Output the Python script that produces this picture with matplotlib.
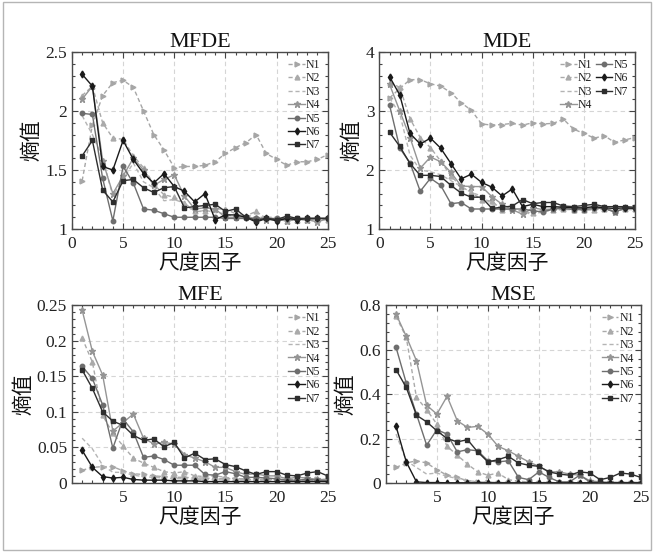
import matplotlib
matplotlib.use("Agg")
import matplotlib.pyplot as plt
from matplotlib.ticker import AutoMinorLocator, FixedLocator
from matplotlib.patches import Rectangle

scales = list(range(1, 26))
series_names = ["N1", "N2", "N3", "N4", "N5", "N6", "N7"]

mfde_N1 = [1.41, 1.88, 2.13, 2.24, 2.26, 2.20, 2.00, 1.80, 1.67, 1.52, 1.53, 1.53, 1.54, 1.57, 1.64, 1.69, 1.73, 1.80, 1.64, 1.59, 1.54, 1.57, 1.57, 1.59, 1.63]
mfde_N2 = [2.13, 2.21, 1.90, 1.77, 1.76, 1.62, 1.52, 1.38, 1.29, 1.27, 1.22, 1.15, 1.15, 1.17, 1.17, 1.13, 1.11, 1.15, 1.09, 1.09, 1.07, 1.08, 1.08, 1.08, 1.08]
mfde_N3 = [1.96, 1.80, 1.60, 1.28, 1.42, 1.56, 1.40, 1.35, 1.24, 1.25, 1.22, 1.14, 1.16, 1.14, 1.13, 1.10, 1.12, 1.10, 1.10, 1.10, 1.08, 1.08, 1.08, 1.08, 1.08]
mfde_N4 = [2.10, 2.21, 1.58, 1.30, 1.45, 1.60, 1.50, 1.37, 1.42, 1.46, 1.28, 1.17, 1.18, 1.17, 1.10, 1.10, 1.10, 1.09, 1.08, 1.08, 1.07, 1.08, 1.08, 1.06, 1.09]
mfde_N5 = [1.98, 1.97, 1.43, 1.07, 1.53, 1.39, 1.17, 1.16, 1.13, 1.10, 1.10, 1.10, 1.10, 1.10, 1.09, 1.09, 1.09, 1.09, 1.09, 1.09, 1.09, 1.09, 1.09, 1.09, 1.09]
mfde_N6 = [2.31, 2.21, 1.53, 1.50, 1.75, 1.59, 1.47, 1.39, 1.47, 1.36, 1.32, 1.23, 1.30, 1.08, 1.12, 1.12, 1.10, 1.06, 1.09, 1.07, 1.09, 1.08, 1.09, 1.09, 1.09]
mfde_N7 = [1.62, 1.75, 1.33, 1.23, 1.41, 1.42, 1.35, 1.31, 1.35, 1.36, 1.18, 1.19, 1.20, 1.21, 1.15, 1.17, 1.10, 1.07, 1.09, 1.08, 1.11, 1.09, 1.09, 1.09, 1.09]

mde_N1 = [3.22, 3.38, 3.53, 3.53, 3.46, 3.42, 3.31, 3.14, 3.01, 2.78, 2.76, 2.77, 2.79, 2.76, 2.80, 2.78, 2.79, 2.86, 2.69, 2.62, 2.54, 2.58, 2.47, 2.51, 2.55]
mde_N2 = [3.48, 3.40, 2.87, 2.55, 2.38, 2.15, 1.90, 1.72, 1.62, 1.50, 1.47, 1.33, 1.34, 1.30, 1.27, 1.32, 1.32, 1.34, 1.33, 1.32, 1.33, 1.34, 1.30, 1.34, 1.34]
mde_N3 = [3.22, 2.95, 2.25, 2.00, 1.97, 1.92, 1.82, 1.72, 1.62, 1.56, 1.42, 1.35, 1.32, 1.30, 1.24, 1.30, 1.32, 1.33, 1.33, 1.33, 1.33, 1.33, 1.33, 1.33, 1.33]
mde_N4 = [3.45, 3.00, 2.55, 2.03, 2.22, 2.14, 1.96, 1.73, 1.72, 1.72, 1.55, 1.42, 1.33, 1.25, 1.36, 1.33, 1.34, 1.37, 1.36, 1.34, 1.37, 1.36, 1.29, 1.35, 1.36]
mde_N5 = [3.10, 2.37, 2.12, 1.64, 1.86, 1.74, 1.43, 1.45, 1.34, 1.34, 1.34, 1.34, 1.34, 1.34, 1.31, 1.29, 1.34, 1.35, 1.33, 1.33, 1.35, 1.35, 1.29, 1.35, 1.35]
mde_N6 = [3.58, 3.27, 2.62, 2.44, 2.54, 2.37, 2.11, 1.85, 1.93, 1.79, 1.71, 1.56, 1.68, 1.38, 1.42, 1.38, 1.38, 1.37, 1.36, 1.36, 1.38, 1.36, 1.35, 1.36, 1.35]
mde_N7 = [2.64, 2.40, 2.11, 1.91, 1.91, 1.89, 1.74, 1.61, 1.54, 1.54, 1.35, 1.37, 1.39, 1.50, 1.43, 1.45, 1.45, 1.39, 1.38, 1.40, 1.42, 1.38, 1.38, 1.38, 1.37]

mfe_N1 = [0.018, 0.022, 0.023, 0.023, 0.017, 0.013, 0.012, 0.010, 0.009, 0.008, 0.008, 0.007, 0.007, 0.006, 0.006, 0.006, 0.005, 0.005, 0.005, 0.005, 0.005, 0.005, 0.005, 0.005, 0.005]
mfe_N2 = [0.204, 0.170, 0.095, 0.070, 0.052, 0.035, 0.028, 0.022, 0.016, 0.014, 0.016, 0.010, 0.009, 0.010, 0.008, 0.006, 0.006, 0.005, 0.005, 0.005, 0.004, 0.004, 0.005, 0.003, 0.003]
mfe_N3 = [0.063, 0.048, 0.025, 0.015, 0.015, 0.011, 0.009, 0.008, 0.007, 0.006, 0.006, 0.005, 0.005, 0.005, 0.004, 0.004, 0.004, 0.004, 0.004, 0.004, 0.004, 0.004, 0.004, 0.004, 0.004]
mfe_N4 = [0.243, 0.185, 0.152, 0.073, 0.085, 0.097, 0.063, 0.055, 0.057, 0.055, 0.040, 0.035, 0.030, 0.022, 0.022, 0.016, 0.012, 0.013, 0.010, 0.010, 0.006, 0.008, 0.007, 0.005, 0.005]
mfe_N5 = [0.164, 0.147, 0.110, 0.049, 0.090, 0.072, 0.036, 0.038, 0.033, 0.025, 0.025, 0.025, 0.012, 0.011, 0.016, 0.013, 0.008, 0.008, 0.007, 0.006, 0.004, 0.004, 0.005, 0.004, 0.003]
mfe_N6 = [0.046, 0.022, 0.009, 0.007, 0.008, 0.005, 0.004, 0.004, 0.004, 0.003, 0.003, 0.003, 0.002, 0.002, 0.002, 0.002, 0.002, 0.002, 0.002, 0.002, 0.002, 0.002, 0.002, 0.002, 0.002]
mfe_N7 = [0.159, 0.133, 0.100, 0.087, 0.081, 0.067, 0.060, 0.062, 0.051, 0.057, 0.035, 0.042, 0.033, 0.034, 0.026, 0.023, 0.017, 0.012, 0.016, 0.016, 0.011, 0.010, 0.014, 0.016, 0.010]

mse_N1 = [0.070, 0.090, 0.100, 0.090, 0.060, 0.035, 0.025, 0.010, 0.005, 0.003, 0.002, 0.002, 0.001, 0.001, 0.001, 0.001, 0.001, 0.001, 0.001, 0.001, 0.001, 0.001, 0.001, 0.001, 0.001]
mse_N2 = [0.750, 0.655, 0.385, 0.330, 0.265, 0.165, 0.125, 0.085, 0.050, 0.035, 0.045, 0.015, 0.008, 0.005, 0.003, 0.002, 0.002, 0.002, 0.002, 0.002, 0.001, 0.001, 0.001, 0.001, 0.001]
mse_N3 = [0.220, 0.100, 0.070, 0.040, 0.045, 0.030, 0.020, 0.010, 0.006, 0.004, 0.003, 0.002, 0.002, 0.001, 0.001, 0.001, 0.001, 0.001, 0.001, 0.001, 0.001, 0.001, 0.001, 0.001, 0.001]
mse_N4 = [0.760, 0.660, 0.550, 0.350, 0.310, 0.390, 0.280, 0.250, 0.255, 0.220, 0.165, 0.145, 0.120, 0.095, 0.075, 0.050, 0.050, 0.040, 0.035, 0.010, 0.005, 0.003, 0.002, 0.002, 0.002]
mse_N5 = [0.610, 0.450, 0.310, 0.170, 0.240, 0.220, 0.140, 0.150, 0.145, 0.100, 0.095, 0.100, 0.025, 0.015, 0.050, 0.025, 0.005, 0.005, 0.035, 0.005, 0.002, 0.002, 0.002, 0.002, 0.002]
mse_N6 = [0.255, 0.095, 0.005, 0.002, 0.002, 0.001, 0.001, 0.001, 0.001, 0.001, 0.001, 0.001, 0.001, 0.001, 0.001, 0.001, 0.001, 0.001, 0.001, 0.001, 0.001, 0.001, 0.001, 0.001, 0.001]
mse_N7 = [0.510, 0.430, 0.305, 0.275, 0.235, 0.200, 0.185, 0.195, 0.140, 0.095, 0.105, 0.120, 0.090, 0.080, 0.075, 0.050, 0.040, 0.035, 0.050, 0.045, 0.015, 0.025, 0.045, 0.040, 0.025]

panel_titles = ["MFDE", "MDE", "MFE", "MSE"]
panel_data = [
    [mfde_N1, mfde_N2, mfde_N3, mfde_N4, mfde_N5, mfde_N6, mfde_N7],
    [mde_N1, mde_N2, mde_N3, mde_N4, mde_N5, mde_N6, mde_N7],
    [mfe_N1, mfe_N2, mfe_N3, mfe_N4, mfe_N5, mfe_N6, mfe_N7],
    [mse_N1, mse_N2, mse_N3, mse_N4, mse_N5, mse_N6, mse_N7],
]
panel_ylims = [(1, 2.5), (1, 4), (0, 0.25), (0, 0.8)]
panel_yticks = [[1, 1.5, 2, 2.5], [1, 2, 3, 4], [0, 0.05, 0.1, 0.15, 0.2, 0.25], [0, 0.2, 0.4, 0.6, 0.8]]
panel_yticklabels = [["1", "1.5", "2", "2.5"], ["1", "2", "3", "4"],
                     ["0", "0.05", "0.1", "0.15", "0.2", "0.25"], ["0", "0.2", "0.4", "0.6", "0.8"]]
panel_xticks = [[0, 5, 10, 15, 20, 25], [0, 5, 10, 15, 20, 25], [5, 10, 15, 20, 25], [5, 10, 15, 20, 25]]
xlabel = "尺度因子"
ylabel = "熵值"

styles = [
    dict(color="#a6a6a6", ls=(0, (3, 2)), marker=">", ms=3.5),
    dict(color="#aaaaaa", ls=(0, (3, 2)), marker="^", ms=3.5),
    dict(color="#b4b4b4", ls=(0, (3, 2)), marker=None, ms=3),
    dict(color="#959595", ls="-", marker="*", ms=4.5),
    dict(color="#6e6e6e", ls="-", marker="o", ms=3.2),
    dict(color="#1a1a1a", ls="-", marker="d", ms=3.5),
    dict(color="#2e2e2e", ls="-", marker="s", ms=3),
]

plt.rcParams["font.family"] = ["Liberation Serif", "Noto Sans CJK SC", "DejaVu Sans"]
plt.rcParams["axes.unicode_minus"] = False

fig = plt.figure(figsize=(6.54, 5.52), dpi=100)
positions = [
    [0.110, 0.585, 0.391, 0.321],
    [0.580, 0.585, 0.391, 0.321],
    [0.110, 0.125, 0.391, 0.322],
    [0.590, 0.125, 0.390, 0.322],
]

cjk = ["Noto Sans CJK SC", "DejaVu Sans"]

for i, ax_pos in enumerate(positions):
    ax = fig.add_axes(ax_pos)
    for name, vals, st in zip(series_names, panel_data[i], styles):
        ax.plot(scales, vals, label=name, color=st["color"], ls=st["ls"],
                marker=st["marker"], ms=st["ms"], lw=1.0,
                markeredgecolor=st["color"], markerfacecolor=st["color"])
    ax.set_xlim(0, 25)
    ax.set_ylim(*panel_ylims[i])
    ax.xaxis.set_major_locator(FixedLocator(panel_xticks[i]))
    ax.set_yticks(panel_yticks[i])
    ax.set_yticklabels(panel_yticklabels[i])
    ax.xaxis.set_minor_locator(AutoMinorLocator(5))
    ax.yaxis.set_minor_locator(AutoMinorLocator(5))
    ax.tick_params(which="both", direction="in", top=True, right=True, colors="#444444",
                   labelcolor="#222222", labelsize=12.5, width=0.8)
    ax.tick_params(which="major", length=4)
    ax.tick_params(which="minor", length=2)
    ax.tick_params(axis="x", pad=5)
    ax.grid(True, which="major", ls=(0, (4, 3)), color="#d5d5d5", lw=0.8)
    ax.set_axisbelow(True)
    for sp in ax.spines.values():
        sp.set_color("#4a4a4a")
        sp.set_linewidth(1.0)
    ax.set_title(panel_titles[i], fontsize=16, pad=1, color="#111111")
    ax.set_xlabel(xlabel, fontsize=15, family=cjk, labelpad=0, color="#111111")
    ax.set_ylabel(ylabel, fontsize=15, family=cjk, labelpad=2, color="#111111")
    ncol = 2 if i == 1 else 1
    ax.legend(loc="upper right", ncol=ncol, frameon=False, fontsize=8.5,
              handlelength=1.4, handletextpad=0.1, labelspacing=0.12,
              columnspacing=0.3, borderaxespad=0.4, borderpad=0.2,
              labelcolor="#222222")

fig.add_artist(Rectangle((0.004, 0.004), 0.992, 0.992, transform=fig.transFigure,
                         fill=False, edgecolor="#b5b5b5", lw=1.0))

fig.savefig("out.png", dpi=100)
